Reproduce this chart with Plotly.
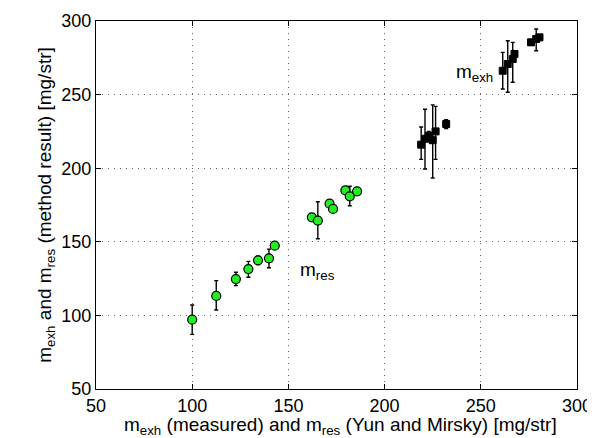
import plotly.graph_objects as go

# Green circles: m_res (Yun and Mirsky) vs method result
res_x = [100, 112.5, 122.7, 129.2, 134.2, 139.9, 142.9, 162.2, 165.3, 171.4, 173.2, 179.6, 181.9, 185.7]
res_y = [97.1, 113.2, 124.7, 131.5, 137.4, 138.8, 147.4, 166.6, 164.4, 175.9, 172.3, 185.0, 180.9, 184.3]
res_err_plus = [10.0, 10.4, 4.6, 5.2, 2.8, 6.2, 1.0, 1.5, 12.8, 1.0, 1.0, 1.5, 6.8, 1.0]
res_err_minus = [10.0, 9.5, 4.5, 5.6, 2.8, 6.4, 1.0, 1.5, 12.3, 1.0, 1.0, 1.5, 6.4, 1.0]

# Black squares: m_exh (measured) vs method result
exh_x = [219, 221, 223, 225, 226.5, 232, 261.4, 264, 266.6, 267.5, 276.1, 278.8, 280.5]
exh_y = [216, 220, 222, 219, 225, 230, 266.2, 270.8, 274.2, 277.6, 285.5, 287.8, 288.9]
exh_err_plus = [12, 20, 3, 24, 17, 3, 12.5, 15.8, 11.3, 2, 2, 6.8, 1]
exh_err_minus = [10, 20.5, 3, 25.7, 19, 3, 12.4, 19.2, 15.8, 2, 2, 8, 1]

ticks = [50, 100, 150, 200, 250, 300]

x_title = "m<sub>exh</sub> (measured) and m<sub>res</sub> (Yun and Mirsky) [mg/str]"
y_title = "m<sub>exh</sub> and m<sub>res</sub> (method result) [mg/str]"

FONT = "Liberation Sans, Arial, Helvetica, sans-serif"

fig = go.Figure()
fig.add_trace(go.Scatter(
    x=exh_x, y=exh_y, mode="markers",
    marker=dict(symbol="square", size=7, color="black", line=dict(color="black", width=1)),
    error_y=dict(type="data", symmetric=False, array=exh_err_plus, arrayminus=exh_err_minus,
                 color="black", thickness=1.4, width=2),
    showlegend=False,
))
fig.add_trace(go.Scatter(
    x=res_x, y=res_y, mode="markers",
    marker=dict(symbol="circle", size=9, color="#22ee22", line=dict(color="black", width=1.2)),
    error_y=dict(type="data", symmetric=False, array=res_err_plus, arrayminus=res_err_minus,
                 color="black", thickness=1.4, width=2),
    showlegend=False,
))

fig.add_annotation(x=236, y=265, text="m<sub>exh</sub>", showarrow=False,
                   xanchor="left", yanchor="middle", font=dict(size=19, color="black", family=FONT))
fig.add_annotation(x=155, y=130, text="m<sub>res</sub>", showarrow=False,
                   xanchor="left", yanchor="middle", font=dict(size=19, color="black", family=FONT))

# x-axis title as an annotation for precise vertical placement
fig.add_annotation(xref="paper", yref="paper", x=0.5, y=0, xshift=4, yshift=-51,
                   text=x_title, showarrow=False, xanchor="center", yanchor="bottom",
                   font=dict(size=19, color="black", family=FONT))

axis_common = dict(
    tickvals=ticks, ticks="inside", ticklen=5, tickcolor="black",
    showline=True, linecolor="black", linewidth=1, mirror="ticks",
    showgrid=True, gridcolor="#666666", griddash="1px,5px", gridwidth=1,
    zeroline=False, tickfont=dict(size=18, color="black", family=FONT),
    automargin=False,
)

fig.update_xaxes(range=[50, 300], **axis_common)
fig.update_yaxes(range=[50, 300],
                 title=dict(text=y_title, font=dict(size=19, color="black", family=FONT), standoff=4),
                 **axis_common)

fig.update_layout(
    width=595, height=438,
    margin=dict(l=88, r=26, t=13, b=57),
    paper_bgcolor="white", plot_bgcolor="white",
    font=dict(family=FONT, color="black"),
)

fig.write_html("out.html")
